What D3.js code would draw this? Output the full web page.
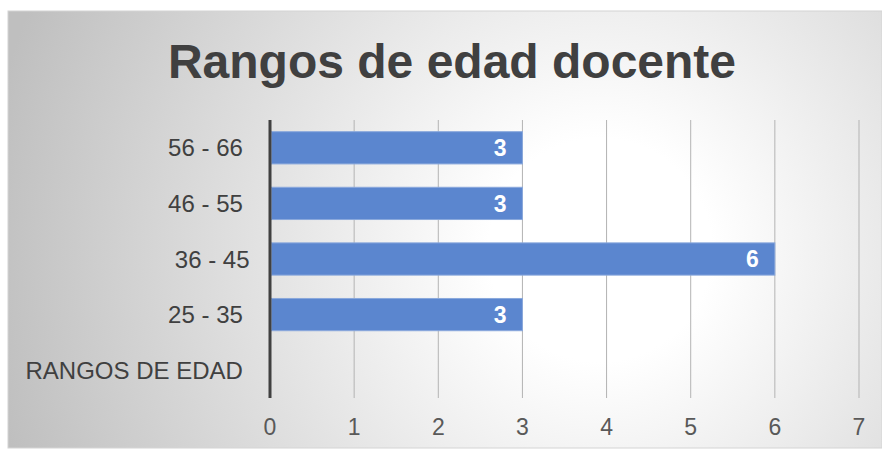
<!DOCTYPE html>
<html>
<head>
<meta charset="utf-8">
<script src="https://cdn.jsdelivr.net/npm/d3@7"></script>
<style>
  body { margin: 0; background: #fff; }
  svg { display: block; font-family: "Liberation Sans", Arial, sans-serif; }
</style>
</head>
<body>
<div id="chart"></div>
<script>
// Daten
const title = "Rangos de edad docente";
const categories = ["56 - 66 ", "46 - 55 ", "36 - 45", "25 - 35 ", "RANGOS DE EDAD "];
const values = [3, 3, 6, 3, null];
const ticks = [0, 1, 2, 3, 4, 5, 6, 7];

const width = 882;
const height = 450;
const margin = { top: 120, right: 23, bottom: 52, left: 270 };

const svg = d3.select("#chart")
    .append("svg")
    .attr("width", width)
    .attr("height", height);

// Hintergrund mit radialem Verlauf
const defs = svg.append("defs");
const grad = defs.append("radialGradient")
    .attr("id", "bg")
    .attr("gradientUnits", "userSpaceOnUse")
    .attr("cx", 600).attr("cy", 250).attr("r", 620);
grad.append("stop").attr("offset", 0).attr("stop-color", "#ffffff");
grad.append("stop").attr("offset", 0.18).attr("stop-color", "#ffffff");
grad.append("stop").attr("offset", 1).attr("stop-color", "#bfbfbf");

svg.append("rect")
    .attr("x", 8).attr("y", 11)
    .attr("width", width - 8).attr("height", 437)
    .attr("fill", "url(#bg)")
    .attr("stroke", "#d4d4d4")
    .attr("stroke-width", 1);

// Skalen
const x = d3.scaleLinear()
    .domain([0, 7])
    .range([margin.left, width - margin.right]);

const y = d3.scaleBand()
    .domain(categories)
    .range([margin.top, height - margin.bottom])
    .paddingInner(0.42)
    .paddingOuter(0.21);

// Gitterlinien
svg.append("g")
    .selectAll("line")
    .data(ticks.filter(t => t > 0))
    .join("line")
    .attr("x1", d => x(d)).attr("x2", d => x(d))
    .attr("y1", margin.top).attr("y2", height - margin.bottom)
    .attr("stroke", "#b3b3b3")
    .attr("stroke-width", 1);

// Balken
const data = categories.map((c, i) => ({ cat: c, val: values[i] })).filter(d => d.val != null);

svg.append("g")
    .selectAll("rect")
    .data(data)
    .join("rect")
    .attr("x", x(0) + 1.5)
    .attr("y", d => y(d.cat))
    .attr("width", d => x(d.val) - x(0) - 1.5)
    .attr("height", y.bandwidth())
    .attr("fill", "#5b86cf")
    .attr("stroke", "#8aa8dc")
    .attr("stroke-width", 1);

// Datenbeschriftung
svg.append("g")
    .selectAll("text")
    .data(data)
    .join("text")
    .attr("x", d => x(d.val) - 16)
    .attr("y", d => y(d.cat) + y.bandwidth() / 2)
    .attr("dy", "0.36em")
    .attr("text-anchor", "end")
    .attr("fill", "#ffffff")
    .attr("font-weight", "bold")
    .attr("font-size", "23px")
    .text(d => d.val);

// Achse links
svg.append("line")
    .attr("x1", x(0)).attr("x2", x(0))
    .attr("y1", margin.top).attr("y2", height - margin.bottom)
    .attr("stroke", "#404040")
    .attr("stroke-width", 3);

// Kategorien
svg.append("g")
    .selectAll("text")
    .data(categories)
    .join("text")
    .attr("x", 249.5)
    .attr("y", d => y(d) + y.bandwidth() / 2)
    .attr("dy", "0.36em")
    .attr("text-anchor", "end")
    .attr("fill", "#404040")
    .attr("font-size", "24px")
    .style("white-space", "pre")
    .text(d => d);

// Achsenbeschriftung unten
svg.append("g")
    .selectAll("text")
    .data(ticks)
    .join("text")
    .attr("x", d => x(d))
    .attr("y", 435)
    .attr("text-anchor", "middle")
    .attr("fill", "#595959")
    .attr("font-size", "23px")
    .text(d => d);

// Titel
svg.append("text")
    .attr("x", 452)
    .attr("y", 78)
    .attr("text-anchor", "middle")
    .attr("fill", "#404040")
    .attr("font-weight", "bold")
    .attr("font-size", "48px")
    .text(title);
</script>
</body>
</html>
